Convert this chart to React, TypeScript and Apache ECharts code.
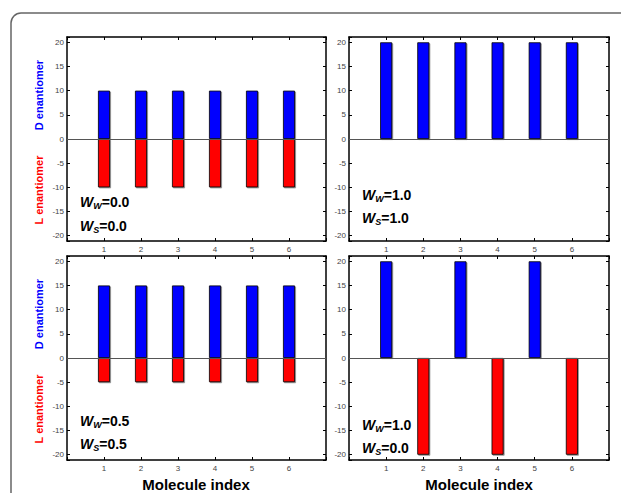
import React, { useEffect, useRef } from "react";
import * as echarts from "echarts";

// Molecule index (x categories)
const categories = [1, 2, 3, 4, 5, 6];

// Panel values: D enantiomer (positive), L enantiomer (negative)
const dTopLeft = [10, 10, 10, 10, 10, 10];
const lTopLeft = [-10, -10, -10, -10, -10, -10];
const dTopRight = [20, 20, 20, 20, 20, 20];
const lTopRight = [0, 0, 0, 0, 0, 0];
const dBottomLeft = [15, 15, 15, 15, 15, 15];
const lBottomLeft = [-5, -5, -5, -5, -5, -5];
const dBottomRight = [20, 0, 20, 0, 20, 0];
const lBottomRight = [0, -20, 0, -20, 0, -20];

// Parameter labels
const wwLabels = ["0.0", "1.0", "0.5", "1.0"];
const wsLabels = ["0.0", "1.0", "0.5", "0.0"];

const yMin = -21.1;
const yMax = 21.1;
const xMin = 0;
const xMax = 7;

const FONT = '"Liberation Sans", Arial, Helvetica, sans-serif';

const panels = [
  { d: dTopLeft, l: lTopLeft, left: 67, top: 37, width: 259, height: 204, annY: [165, 189], yTitles: true },
  { d: dTopRight, l: lTopRight, left: 349, top: 37, width: 260, height: 204, annY: [158, 181], yTitles: false },
  { d: dBottomLeft, l: lBottomLeft, left: 67, top: 256, width: 259, height: 204, annY: [165, 188], yTitles: true },
  { d: dBottomRight, l: lBottomRight, left: 349, top: 256, width: 260, height: 204, annY: [169, 192], yTitles: false },
];

function buildOption() {
  const grid: any[] = [];
  const xAxis: any[] = [];
  const yAxis: any[] = [];
  const series: any[] = [];
  const graphic: any[] = [];

  const axisLine = { show: true, onZero: false, lineStyle: { color: "#000", width: 1.5 } };
  const axisTick = { show: true, inside: true, length: 3, lineStyle: { color: "#000", width: 1 } };

  panels.forEach((p, i) => {
    grid.push({ left: p.left, top: p.top, width: p.width, height: p.height, containLabel: false });
    const xBase = {
      gridIndex: i,
      type: "value",
      min: xMin,
      max: xMax,
      interval: 1,
      axisLine,
      axisTick,
      splitLine: { show: false },
    };
    xAxis.push({
      ...xBase,
      position: "bottom",
      axisLabel: {
        show: true,
        fontSize: 8,
        color: "#444",
        fontFamily: FONT,
        margin: 4,
        formatter: (v: number) => (categories.includes(v) ? String(v) : ""),
      },
    });
    xAxis.push({ ...xBase, position: "top", axisLabel: { show: false } });

    const yBase = {
      gridIndex: i,
      type: "value",
      min: yMin,
      max: yMax,
      splitNumber: 8,
      minInterval: 5,
      maxInterval: 5,
      axisLine,
      axisTick,
      splitLine: { show: false },
    };
    yAxis.push({
      ...yBase,
      position: "left",
      axisLabel: {
        show: true,
        fontSize: 8,
        color: "#444",
        fontFamily: FONT,
        margin: 3,
        formatter: (v: number) => (Math.abs(v % 5) < 1e-9 ? String(v) : ""),
      },
    });
    yAxis.push({ ...yBase, position: "right", axisLabel: { show: false } });

    const barStyle = (color: string) => ({
      color,
      borderColor: "#000",
      borderWidth: 0.8,
      shadowColor: "rgba(0,0,0,0.45)",
      shadowBlur: 1,
      shadowOffsetX: 1,
      shadowOffsetY: 1,
    });

    series.push({
      type: "bar",
      name: "D enantiomer",
      xAxisIndex: 2 * i,
      yAxisIndex: 2 * i,
      barWidth: 12,
      barGap: "-100%",
      data: categories.map((c, k) => [c, p.d[k]]),
      itemStyle: barStyle("#0000ff"),
      z: 2,
    });
    series.push({
      type: "bar",
      name: "L enantiomer",
      xAxisIndex: 2 * i,
      yAxisIndex: 2 * i,
      barWidth: 12,
      barGap: "-100%",
      data: categories.map((c, k) => [c, p.l[k]]),
      itemStyle: barStyle("#ff0000"),
      z: 2,
      markLine: {
        silent: true,
        symbol: ["none", "none"],
        label: { show: false },
        lineStyle: { color: "#555", width: 1, type: "solid" },
        data: [{ yAxis: 0 }],
      },
    });

    // Parameter annotations
    const richStyle = {
      it: { fontSize: 14, fontWeight: "bold", fontStyle: "italic", fontFamily: FONT, lineHeight: 16, fill: "#000", color: "#000" },
      sub: {
        fontSize: 9,
        fontWeight: "bold",
        fontStyle: "italic",
        fontFamily: FONT,
        lineHeight: 9,
        verticalAlign: "bottom",
        fill: "#000",
        color: "#000",
      },
      rg: { fontSize: 14, fontWeight: "bold", fontFamily: FONT, lineHeight: 16, fill: "#000", color: "#000" },
    };
    graphic.push({
      type: "text",
      x: p.left + 13,
      y: p.top + p.annY[0],
      silent: true,
      style: {
        text: `{it|W}{sub|W}{rg|=${wwLabels[i]}}`,
        rich: richStyle,
        align: "left",
        verticalAlign: "middle",
        textAlign: "left",
        textVerticalAlign: "middle",
      },
    });
    graphic.push({
      type: "text",
      x: p.left + 13,
      y: p.top + p.annY[1],
      silent: true,
      style: {
        text: `{it|W}{sub|S}{rg|=${wsLabels[i]}}`,
        rich: richStyle,
        align: "left",
        verticalAlign: "middle",
        textAlign: "left",
        textVerticalAlign: "middle",
      },
    });

    if (p.yTitles) {
      graphic.push({
        type: "text",
        x: 39,
        y: p.top + 58,
        rotation: Math.PI / 2,
        silent: true,
        style: {
          text: "D enantiomer",
          fill: "#0000ff",
          fontSize: 11,
          fontWeight: "bold",
          fontFamily: FONT,
          align: "center",
          verticalAlign: "middle",
          textAlign: "center",
          textVerticalAlign: "middle",
        },
      });
      graphic.push({
        type: "text",
        x: 39,
        y: p.top + 153,
        rotation: Math.PI / 2,
        silent: true,
        style: {
          text: "L enantiomer",
          fill: "#ff0000",
          fontSize: 11,
          fontWeight: "bold",
          fontFamily: FONT,
          align: "center",
          verticalAlign: "middle",
          textAlign: "center",
          textVerticalAlign: "middle",
        },
      });
    }
  });

  // x-axis titles
  [196, 479].forEach((cx) => {
    graphic.push({
      type: "text",
      x: cx,
      y: 484,
      silent: true,
      style: {
        text: "Molecule index",
        fill: "#000",
        fontSize: 15,
        fontWeight: "bold",
        fontFamily: FONT,
        align: "center",
        verticalAlign: "middle",
        textAlign: "center",
        textVerticalAlign: "middle",
      },
    });
  });

  // Outer rounded frame
  graphic.push({
    type: "rect",
    silent: true,
    shape: { x: 11, y: 13, width: 800, height: 700, r: [10, 0, 0, 0] },
    style: { fill: "none", stroke: "#666", lineWidth: 1.5 },
    z: -1,
  });

  return {
    animation: false,
    backgroundColor: "#fff",
    grid,
    xAxis,
    yAxis,
    series,
    graphic,
  };
}

export default function App() {
  const ref = useRef<HTMLDivElement | null>(null);
  useEffect(() => {
    if (!ref.current) return;
    const chart = echarts.init(ref.current, undefined, { renderer: "svg" });
    chart.setOption(buildOption() as any);
    return () => chart.dispose();
  }, []);
  return (
    <div
      ref={ref}
      style={{ position: "fixed", left: 0, top: 0, width: 621, height: 493, background: "#fff" }}
    />
  );
}
